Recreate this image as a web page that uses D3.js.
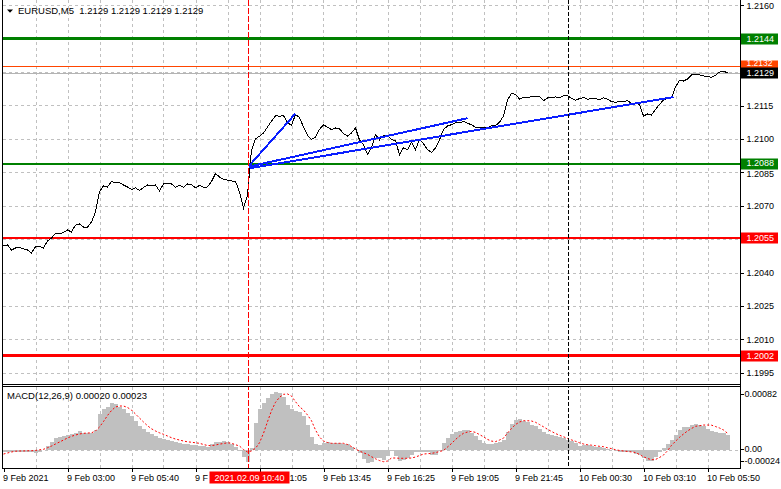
<!DOCTYPE html>
<html lang="en">
<head>
  <meta charset="UTF-8">
  <title>EURUSD M5 with MACD</title>
  <script src="https://d3js.org/d3.v7.min.js"></script>
  <style>
    body { margin: 0; background: #fff; }
    svg { display: block; font-family: "Liberation Sans", Arial, sans-serif; }
    .grid line { stroke: #c0c0c0; stroke-dasharray: 3,3; shape-rendering: crispEdges; }
    .axis text { font-size: 9px; fill: #000; }
    .axis line { stroke: #000; shape-rendering: crispEdges; }
    .frame { stroke: #000; shape-rendering: crispEdges; }
  </style>
</head>
<body>
<svg id="chart" width="781" height="489"></svg>
<script>
// ---------- data ----------
const symbolTitle = "EURUSD,M5";
const lastOHLC = [1.2129, 1.2129, 1.2129, 1.2129];

// one close every 2 bars (M5 bars), bar 0 = 9 Feb 00:00
const closeStep = 2;
const closes = [
  1.20519,1.20524,1.20501,1.20510,1.20512,1.20506,1.20501,1.20488,1.20515,1.20517,
  1.20510,1.20542,1.20555,1.20577,1.20573,1.20580,1.20591,1.20582,1.20613,1.20618,
  1.20604,1.20603,1.20627,1.20672,1.20762,1.20789,1.20784,1.20809,1.20802,1.20804,
  1.20793,1.20784,1.20773,1.20780,1.20768,1.20782,1.20793,1.20789,1.20793,1.20766,
  1.20798,1.20800,1.20798,1.20782,1.20791,1.20783,1.20798,1.20795,1.20780,1.20791,
  1.20783,1.20784,1.20809,1.20845,1.20829,1.20819,1.20815,1.20811,1.20809,1.20762,
  1.20690,1.20748,1.20950,1.21000,1.21012,1.21027,1.21053,1.21080,1.21104,1.21102,
  1.21105,1.21074,1.21060,1.21110,1.21096,1.21053,1.21016,1.20998,1.21007,1.21043,
  1.21063,1.21053,1.21042,1.21049,1.21045,1.21024,1.21013,1.21027,1.21049,1.20995,
  1.20975,1.20930,1.20961,1.21020,1.20996,1.21015,1.21015,1.20997,1.20993,1.20928,
  1.20961,1.20952,1.20984,1.20952,1.20997,1.20978,1.20952,1.20939,1.20960,1.20996,
  1.21042,1.21058,1.21064,1.21073,1.21072,1.21078,1.21071,1.21063,1.21053,1.21053,
  1.21053,1.21049,1.21059,1.21060,1.21075,1.21103,1.21175,1.21204,1.21200,1.21179,
  1.21187,1.21187,1.21189,1.21190,1.21191,1.21171,1.21184,1.21185,1.21189,1.21185,
  1.21193,1.21193,1.21183,1.21173,1.21181,1.21186,1.21178,1.21182,1.21180,1.21177,
  1.21184,1.21179,1.21167,1.21165,1.21167,1.21168,1.21172,1.21160,1.21161,1.21155,
  1.21103,1.21112,1.21107,1.21132,1.21155,1.21175,1.21182,1.21185,1.21233,1.21263,
  1.21260,1.21269,1.21287,1.21287,1.21287,1.21283,1.21280,1.21277,1.21286,1.21300,
  1.21304,1.21297
];

// MACD(12,26,9) in units of 0.00001, same bar step as closes
const macdUnit = 1e-5;
const macdHist = [
  -3.5,-3.5,-3.5,-3.5,-2.8,-2.8,-3.5,-4.2,-4.9,-4.2,
  -0.7,4.9,10.6,15.6,17.7,19.1,20.5,21.9,24.0,26.2,
  23.8,23.8,24.0,27.6,50.2,57.3,60.8,65.3,64.3,60.8,
  57.3,52.3,46.7,41.0,33.2,28.3,24.7,21.5,19.1,16.3,
  14.4,13.1,11.7,10.2,8.9,8.2,7.8,6.8,5.9,4.9,
  4.5,4.2,7.1,10.2,11.3,12.0,10.6,8.2,3.1,-2.5,
  -10.5,-18.1,2.8,37.0,57.0,66.0,73.0,78.5,82.0,80.5,
  74.0,63.0,57.0,55.0,53.5,47.0,35.0,18.0,7.8,6.4,
  8.8,10.6,9.2,8.8,8.8,8.2,7.1,3.1,0.0,-4.7,
  -12.7,-18.9,-17.7,-12.3,-12.3,-14.8,-9.6,-2.1,-9.2,-15.6,
  -14.8,-12.0,-7.8,-4.0,-3.1,-3.1,-4.2,-7.1,-7.8,-1.4,
  9.2,15.8,21.5,24.3,26.4,27.6,27.9,23.3,19.4,14.1,
  9.6,8.5,7.8,8.6,10.6,13.7,25.2,35.8,42.4,43.1,
  40.7,38.9,35.2,32.9,29.3,25.2,22.3,20.1,18.5,17.2,
  15.8,14.1,12.0,9.2,5.2,5.7,6.1,4.9,4.2,4.0,
  2.8,1.4,-0.1,-1.4,-3.0,-3.1,-3.3,-4.2,-5.9,-7.8,
  -12.6,-15.8,-15.6,-10.9,-4.0,1.8,7.1,13.1,20.5,27.6,
  31.4,32.5,35.3,36.1,34.9,33.2,29.4,26.6,24.2,23.8,
  23.8,20.0
];
const macdSignal = [
  -6.4,-4.9,-3.5,-2.4,-2.1,-2.0,-1.8,-1.7,-1.3,-0.4,
  0.3,2.5,4.9,7.8,10.6,13.4,16.3,18.7,20.5,21.9,
  22.9,23.3,23.6,26.2,31.8,39.6,48.1,55.1,60.1,61.5,
  61.5,59.4,55.8,50.2,44.5,38.9,33.6,29.3,26.2,23.6,
  21.5,19.1,16.7,14.8,13.4,12.0,10.9,10.3,9.5,8.8,
  7.1,5.7,5.4,6.4,7.6,8.5,9.5,8.8,6.8,4.9,
  0.0,-3.5,-2.0,1.7,9.6,22.9,39.3,54.9,66.7,73.8,
  78.0,78.5,75.6,67.6,60.5,55.8,48.8,40.7,27.6,17.7,
  12.0,9.9,8.8,8.8,8.8,8.8,7.1,4.2,0.7,-2.1,
  -4.7,-6.8,-10.2,-13.1,-15.6,-17.2,-16.3,-12.0,-12.0,-12.4,
  -12.4,-12.4,-12.0,-10.6,-8.5,-6.4,-5.9,-5.5,-4.4,-2.8,
  -1.4,3.5,8.5,14.1,19.1,22.9,24.7,25.6,24.2,21.1,
  18.0,14.3,11.9,11.2,13.4,16.1,23.3,29.7,35.3,38.9,
  40.7,40.7,40.3,38.5,35.3,32.1,28.6,25.6,22.6,20.2,
  18.0,15.7,13.6,11.6,9.5,7.8,6.8,6.1,5.4,4.5,
  4.0,2.5,1.3,-0.3,-1.3,-2.1,-2.7,-3.4,-4.2,-7.1,
  -10.3,-12.7,-14.4,-14.1,-11.3,-7.8,-1.8,5.9,11.6,17.2,
  21.9,26.2,29.7,32.8,33.6,34.6,34.6,34.4,32.5,30.4,
  27.6,23.0
];
const macdLast = ["0.00020", "0.00023"];
const macdTicks = [0.00082, 0, -0.00024];

const priceTicks = [1.2160, 1.2145, 1.2130, 1.2115, 1.2100, 1.2085, 1.2070, 1.2055, 1.2040, 1.2025, 1.2010, 1.1995];
const timeBars = [0, 32, 64, 96, 128, 160, 192, 224, 256, 288, 320, 352];
const timeLabels = ["9 Feb 2021", "9 Feb 03:00", "9 Feb 05:40", "9 Feb 08:20", "9 Feb 11:05", "9 Feb 13:45",
                    "9 Feb 16:25", "9 Feb 19:05", "9 Feb 21:45", "10 Feb 00:30", "10 Feb 03:10", "10 Feb 05:50"];

// horizontal levels (price), drawn top to bottom
const levels = [1.21449, 1.21327, 1.20889, 1.20556, 1.20026];

// trend lines: start bar/price -> end bar/price
const trendFromBar = [123, 123, 123];
const trendFromPrice = [1.20881, 1.20876, 1.20868];
const trendToBar = [146, 232, 335];
const trendToPrice = [1.21114, 1.21093, 1.21188];

const crosshairBar = 123;
const crosshairLabel = "2021.02.09 10:40";
const daySeparatorBar = 282;
const gridEvery = 16;

// ---------- styles for the levels (not data) ----------
const levelStyle = [
  { color: "#008000", width: 3, lift: 0 },
  { color: "#ff4500", width: 1, lift: 3.5 },
  { color: "#008000", width: 2, lift: 1 },
  { color: "#ff0000", width: 2, lift: 0 },
  { color: "#ff0000", width: 3, lift: 0 }
];

// ---------- layout ----------
const leftX = 2.5, axisX = 740.5;
const mainBottom = 384.5, macdTop = 386.5, macdBottom = 468.5;

const x = d3.scaleLinear().domain([0, 368]).range([3.5, 739.5]);
const y = d3.scaleLinear().domain([1.1995, 1.2160]).range([372.7, 5.3]);
const yM = d3.scaleLinear().domain([-0.00024, 0.00082]).range([466.5, 391.5]);

const fmt4 = p => (Math.floor(p * 1e4 + 1e-6) / 1e4).toFixed(4);

const svg = d3.select("#chart");
svg.append("rect").attr("width", 781).attr("height", 489).attr("fill", "#fff");

// ---------- grid ----------
const gridBars = d3.range(gridEvery, 368, gridEvery);
const grid = svg.append("g").attr("class", "grid");
grid.selectAll(".vm").data(gridBars).enter().append("line")
  .attr("x1", d => Math.round(x(d)) + 0.5).attr("x2", d => Math.round(x(d)) + 0.5)
  .attr("y1", 0).attr("y2", mainBottom);
grid.selectAll(".vs").data(gridBars).enter().append("line")
  .attr("x1", d => Math.round(x(d)) + 0.5).attr("x2", d => Math.round(x(d)) + 0.5)
  .attr("y1", macdTop).attr("y2", macdBottom);
grid.selectAll(".h").data(priceTicks).enter().append("line")
  .attr("x1", leftX).attr("x2", axisX)
  .attr("y1", d => Math.round(y(d)) + 0.5).attr("y2", d => Math.round(y(d)) + 0.5);
grid.append("line")
  .attr("x1", leftX).attr("x2", axisX)
  .attr("y1", Math.round(yM(0)) + 0.5).attr("y2", Math.round(yM(0)) + 0.5);

// ---------- horizontal levels + bid line ----------
const bid = closes[closes.length - 1];
svg.append("line")
  .attr("x1", leftX).attr("x2", axisX)
  .attr("y1", Math.round(y(bid)) + 0.5).attr("y2", Math.round(y(bid)) + 0.5)
  .attr("stroke", "#b4b4b4").attr("shape-rendering", "crispEdges");

svg.selectAll(".level").data(levels).enter().append("line")
  .attr("x1", leftX).attr("x2", axisX)
  .attr("y1", d => y(d)).attr("y2", d => y(d))
  .attr("stroke", (d, i) => levelStyle[i].color)
  .attr("stroke-width", (d, i) => levelStyle[i].width)
  .attr("shape-rendering", "crispEdges");

// ---------- price line ----------
const priceLine = d3.line()
  .x((d, i) => x(i * closeStep))
  .y(d => y(d));

svg.append("path")
  .datum(closes)
  .attr("d", priceLine)
  .attr("fill", "none")
  .attr("stroke", "#000")
  .attr("stroke-width", 1)
  .attr("shape-rendering", "crispEdges");

// ---------- trend lines ----------
svg.selectAll(".trend").data(trendFromBar).enter().append("line")
  .attr("x1", (d, i) => x(trendFromBar[i]))
  .attr("y1", (d, i) => y(trendFromPrice[i]))
  .attr("x2", (d, i) => x(trendToBar[i]))
  .attr("y2", (d, i) => y(trendToPrice[i]))
  .attr("stroke", "#0a1eff")
  .attr("stroke-width", 2)
  .attr("shape-rendering", "crispEdges");

// ---------- MACD ----------
svg.selectAll(".hist").data(macdHist).enter().append("rect")
  .attr("x", (d, i) => x(i * closeStep) - 2)
  .attr("width", 4)
  .attr("y", d => Math.min(yM(d * macdUnit), yM(0)))
  .attr("height", d => Math.abs(yM(d * macdUnit) - yM(0)))
  .attr("fill", "#c0c0c0")
  .attr("shape-rendering", "crispEdges");

const signalLine = d3.line()
  .x((d, i) => x(i * closeStep))
  .y(d => yM(d * macdUnit));

svg.append("path")
  .datum(macdSignal)
  .attr("d", signalLine)
  .attr("fill", "none")
  .attr("stroke", "#ff0000")
  .attr("stroke-width", 1)
  .attr("stroke-dasharray", "2,2");

// ---------- vertical markers ----------
svg.append("line")
  .attr("x1", Math.round(x(daySeparatorBar)) + 0.5).attr("x2", Math.round(x(daySeparatorBar)) + 0.5)
  .attr("y1", 0).attr("y2", macdBottom)
  .attr("stroke", "#000").attr("stroke-dasharray", "4,2")
  .attr("shape-rendering", "crispEdges");

svg.append("line")
  .attr("x1", Math.round(x(crosshairBar)) - 0.5).attr("x2", Math.round(x(crosshairBar)) - 0.5)
  .attr("y1", 0).attr("y2", macdBottom)
  .attr("stroke", "#ff0000").attr("stroke-dasharray", "6,2")
  .attr("shape-rendering", "crispEdges");

// ---------- frame ----------
svg.append("rect").attr("x", 0).attr("y", mainBottom + 0.5).attr("width", axisX).attr("height", 1.5).attr("fill", "#fff");
[[leftX, 0, leftX, macdBottom], [leftX, mainBottom, axisX, mainBottom], [leftX, macdTop, axisX, macdTop],
 [leftX, macdBottom, axisX, macdBottom], [axisX, 0, axisX, macdBottom]].forEach(s => {
  svg.append("line").attr("class", "frame")
    .attr("x1", s[0]).attr("y1", s[1]).attr("x2", s[2]).attr("y2", s[3]);
});

// ---------- axes ----------
const priceAxis = svg.append("g")
  .attr("class", "axis")
  .attr("transform", `translate(${axisX},0)`)
  .call(d3.axisRight(y).tickValues(priceTicks).tickSize(3).tickFormat(d3.format(".4f")))
  .call(g => g.select(".domain").remove());
// 1.2085 sits right under the 1.2088 box
priceAxis.selectAll(".tick text").filter(d => d === 1.2085).attr("y", 1.5);

const macdAxis = svg.append("g")
  .attr("class", "axis")
  .attr("transform", `translate(${axisX},0)`)
  .call(d3.axisRight(yM).tickValues(macdTicks).tickSize(3)
    .tickFormat(d => d === 0 ? "0.00" : d.toFixed(5)))
  .call(g => g.select(".domain").remove());
macdAxis.selectAll(".tick")
  .attr("transform", d => `translate(0,${Math.max(394, Math.min(461, yM(d)))})`);
macdAxis.selectAll(".tick text").attr("x", 4);

const timeAxis = svg.append("g")
  .attr("class", "axis")
  .attr("transform", `translate(0,${macdBottom})`)
  .call(d3.axisBottom(x).tickValues(timeBars).tickSize(3).tickFormat((d, i) => timeLabels[i]))
  .call(g => g.select(".domain").remove());
timeAxis.selectAll(".tick text").attr("text-anchor", "start").attr("x", -1);

// the crosshair time box hides part of the labels under it: keep only the visible pieces
const chx = x(crosshairBar);
const boxL = chx - 40, boxR = chx + 40;
timeAxis.selectAll(".tick").each(function(d) {
  const t = d3.select(this).select("text");
  const full = t.text();
  const x0 = x(d) - 1;
  const node = t.node();
  const w = n => { t.text(full.slice(0, n)); return node.getComputedTextLength(); };
  const fullW = w(full.length);
  t.text(full);
  if (x0 + fullW <= boxL || x0 >= boxR) return;
  let lead = 0;
  while (lead < full.length && x0 + w(lead + 1) <= boxL) lead++;
  let cut = lead;
  while (cut < full.length && x0 + w(cut) < boxR - 2) cut++;
  const tailX = w(cut);
  t.text(full.slice(0, lead));
  if (cut < full.length) {
    d3.select(this).append("text")
      .attr("fill", "#000").attr("y", t.attr("y")).attr("dy", t.attr("dy"))
      .attr("x", -1 + tailX).attr("text-anchor", "start")
      .text(full.slice(cut));
  }
});

// ---------- level labels on the price scale ----------
const boxes = levels.map((p, i) => ({ p: p, color: levelStyle[i].color, lift: levelStyle[i].lift, size: i === 1 ? 8.5 : 9 }));
boxes.splice(2, 0, { p: bid, color: "#000", lift: 0, size: 9 });
const boxG = svg.selectAll(".lvlbox").data(boxes).enter().append("g")
  .attr("transform", d => `translate(${axisX + 0.5},${Math.round(y(d.p))})`);
boxG.append("rect")
  .attr("x", 0).attr("y", -5.5).attr("width", 37).attr("height", 11)
  .attr("fill", d => d.color);
boxG.append("text")
  .attr("x", 5.5).attr("y", d => 3.3 - d.lift)
  .attr("font-size", d => d.size + "px").attr("fill", "#fff")
  .text(d => fmt4(d.p));

// ---------- crosshair time label ----------
svg.append("rect")
  .attr("x", boxL).attr("y", 471.5).attr("width", boxR - boxL).attr("height", 12)
  .attr("fill", "#ff0000");
svg.append("text")
  .attr("x", chx).attr("y", 481).attr("text-anchor", "middle")
  .attr("font-size", "9px").attr("fill", "#fff")
  .text(crosshairLabel);

// ---------- headers ----------
svg.append("path").attr("d", "M7,9.5L13,9.5L10,12.8Z").attr("fill", "#000");
svg.append("text")
  .attr("x", 18).attr("y", 14)
  .attr("font-size", "9.5px")
  .style("white-space", "pre")
  .text(symbolTitle + "  " + lastOHLC.map(v => v.toFixed(4)).join(" "));

svg.append("text")
  .attr("x", 7).attr("y", 398.5)
  .attr("font-size", "9.5px")
  .text(`MACD(12,26,9) ${macdLast[0]} ${macdLast[1]}`);
</script>
</body>
</html>
